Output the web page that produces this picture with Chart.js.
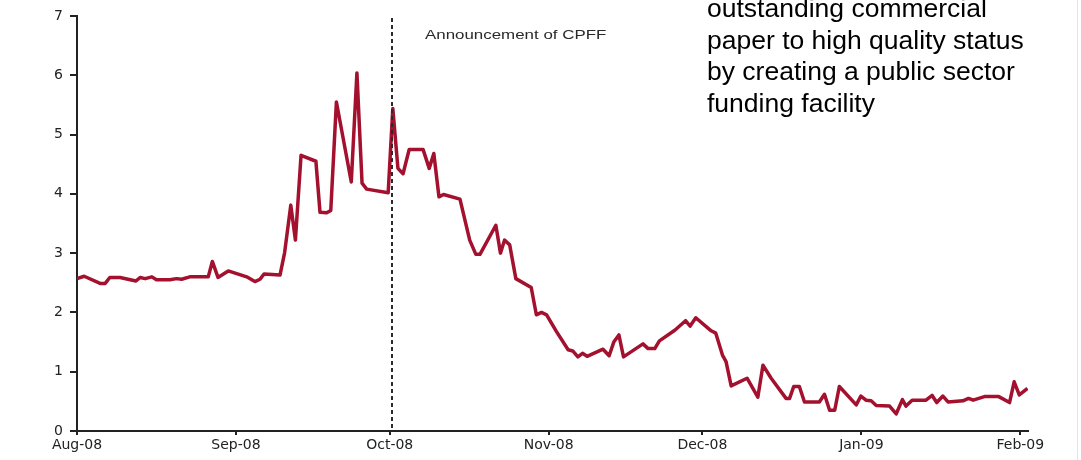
<!DOCTYPE html>
<html>
<head>
<meta charset="utf-8">
<script src="https://cdn.jsdelivr.net/npm/chart.js@4"></script>
<style>
    html, body { margin: 0; padding: 0; background: #fff; }
    #wrap { position: relative; width: 1081px; height: 460px; overflow: hidden; }
    #slideText {
        position: absolute; left: 707px; top: -7px;
        font: 26.5px "Liberation Sans", Arial, sans-serif;
        line-height: 31.7px; color: #000; white-space: nowrap;
    }
    #edge { position: absolute; left: 1077px; top: 0; width: 1px; height: 460px; background: #e4e4e4; }
</style>
</head>
<body>
<div id="wrap">
    <canvas id="cpChart" width="1081" height="460"></canvas>
    <div id="slideText">outstanding commercial<br>paper to high quality status<br>by creating a public sector<br>funding facility</div>
    <div id="edge"></div>
</div>
<script>
// ── Data: days since 1 Aug 2008, spread (%) ──
const dayOffsets = [
    0, 1.4, 4.5, 5.5, 6.4, 8.4, 11.5, 12.3, 13.3, 14.6, 15.5, 18.1, 19.4, 20.4, 22, 25.6, 26.4, 27.5, 29.5,
    33.1, 34.7, 35.7, 36.5, 39.6, 40.5, 41.7, 42.6, 43.7, 46.6, 47.4, 48.7, 49.5, 50.6, 53.5, 54.6, 55.6, 56.5, 60.7,
    61.6, 62.6, 63.6, 64.8, 67.5, 68.7, 69.6, 70.6, 71.5, 74.7, 76.6, 77.8, 78.6, 81.7, 82.6, 83.4, 84.4, 85.6, 88.6,
    89.6, 90.6, 91.6, 93.5, 95.8, 96.7, 97.7, 98.6, 99.5, 102.6, 103.8, 104.7, 105.7, 106.6, 110.4, 111.4, 112.7,
    113.6, 116.6, 118.7, 119.6, 120.7, 123.7, 124.6, 125.9, 126.6, 127.6, 130.7, 132.8, 133.8, 135.4, 138.3, 139,
    139.8, 140.9, 141.9, 144.8, 145.8, 146.8, 147.8, 148.7, 152, 152.9, 153.9, 154.9, 155.9, 158.5, 159.8, 161,
    161.7, 162.9, 165.6, 166.8, 167.7, 168.9, 169.9, 172.8, 173.9, 174.8, 177, 179.8, 181.9, 182.8, 183.8, 185.4
];
const rates = [
    2.57, 2.61, 2.49, 2.49, 2.59, 2.59, 2.53, 2.59, 2.57, 2.60, 2.55, 2.55, 2.57, 2.56, 2.60, 2.60, 2.86, 2.59, 2.70,
    2.60, 2.52, 2.56, 2.65, 2.63, 3.01, 3.81, 3.22, 4.65, 4.55, 3.69, 3.68, 3.72, 5.55, 4.20, 6.04, 4.18, 4.08, 4.02,
    5.44, 4.43, 4.34, 4.75, 4.75, 4.43, 4.68, 3.95, 3.99, 3.91, 3.22, 2.98, 2.98, 3.47, 3.00, 3.22, 3.14, 2.57, 2.42,
    1.96, 2.00, 1.96, 1.68, 1.37, 1.35, 1.25, 1.31, 1.26, 1.38, 1.27, 1.50, 1.62, 1.25, 1.47, 1.39, 1.39,
    1.52, 1.70, 1.86, 1.77, 1.91, 1.69, 1.65, 1.28, 1.17, 0.76, 0.89, 0.57, 1.11, 0.89, 0.55, 0.55,
    0.75, 0.75, 0.49, 0.49, 0.62, 0.35, 0.35, 0.75, 0.44, 0.59, 0.52, 0.51, 0.43, 0.42, 0.29, 0.53,
    0.42, 0.52, 0.52, 0.60, 0.48, 0.59, 0.49, 0.51, 0.55, 0.52, 0.58, 0.58, 0.48, 0.83, 0.61, 0.72
];
const monthTicks = [0, 31, 61, 92, 122, 153, 184];
const monthLabels = ['Aug-08', 'Sep-08', 'Oct-08', 'Nov-08', 'Dec-08', 'Jan-09', 'Feb-09'];
const cpffDay = 61.5;
const cpffLabel = 'Announcement of CPFF';

const AXIS = '#222';
const TICK_FONT = { family: '"DejaVu Sans", sans-serif', size: 14 };

// ── Announcement marker ──
const cpffMarker = {
    id: 'cpffMarker',
    afterDatasetsDraw(chart) {
        const { ctx, chartArea, scales } = chart;
        const x = Math.round(scales.x.getPixelForValue(cpffDay));
        ctx.save();
        ctx.strokeStyle = '#2a2a2a';
        ctx.lineWidth = 2;
        ctx.setLineDash([4, 3]);
        ctx.beginPath();
        ctx.moveTo(x, chartArea.top + 2);
        ctx.lineTo(x, chartArea.bottom);
        ctx.stroke();
        // label (horizontally stretched like the source image)
        ctx.translate(x + 33, chartArea.top + 19);
        ctx.scale(1.3, 1);
        ctx.font = '13px "Liberation Sans", Arial, sans-serif';
        ctx.fillStyle = '#2a2a2a';
        ctx.textBaseline = 'middle';
        ctx.fillText(cpffLabel, 0, 0);
        ctx.restore();
    }
};

// ── Build Chart ──
const ctx = document.getElementById('cpChart').getContext('2d');
new Chart(ctx, {
    type: 'line',
    data: {
        datasets: [{
            data: dayOffsets.map((d, i) => ({ x: d, y: rates[i] })),
            borderColor: '#a3112f',
            borderWidth: 3.5,
            borderJoinStyle: 'round',
            pointRadius: 0,
            tension: 0
        }]
    },
    options: {
        responsive: false,
        animation: false,
        layout: { padding: { top: 16, right: 53, left: 0, bottom: 0 } },
        plugins: { legend: { display: false }, tooltip: { enabled: false } },
        scales: {
            x: {
                type: 'linear',
                min: 0,
                max: 185.5,
                afterBuildTicks: s => { s.ticks = monthTicks.map(v => ({ value: v })); },
                afterFit: s => { s.height = 29; },
                ticks: {
                    autoSkip: false,
                    maxRotation: 0,
                    padding: 2,
                    color: AXIS,
                    font: TICK_FONT,
                    callback: v => monthLabels[monthTicks.indexOf(v)]
                },
                grid: { drawOnChartArea: false, tickLength: 4, color: AXIS, lineWidth: 2 },
                border: { color: AXIS, width: 2 }
            },
            y: {
                min: 0,
                max: 7,
                afterFit: s => { s.width = 77; },
                ticks: { stepSize: 1, padding: 7, color: AXIS, font: TICK_FONT },
                grid: { drawOnChartArea: false, tickLength: 7, color: AXIS, lineWidth: 2 },
                border: { color: AXIS, width: 2 }
            }
        }
    },
    plugins: [cpffMarker]
});
</script>
</body>
</html>
